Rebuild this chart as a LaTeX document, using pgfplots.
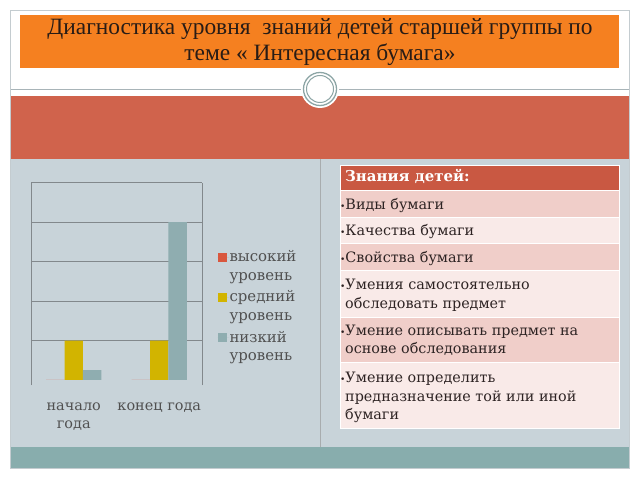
\documentclass[border=0pt]{standalone}
\usepackage{pgfplots}
\pgfplotsset{compat=1.18}
\usepackage{fontspec}
\setmainfont{DejaVu Serif}
\newfontfamily\titlefont{Liberation Serif}
\definecolor{orangeT}{RGB}{245,128,32}
\definecolor{redband}{RGB}{208,99,76}
\definecolor{slatebg}{RGB}{200,211,217}
\definecolor{tealband}{RGB}{136,173,173}
\definecolor{hdr}{RGB}{201,88,66}
\definecolor{rowdark}{RGB}{240,206,201}
\definecolor{rowlight}{RGB}{249,234,232}
\definecolor{barred}{RGB}{217,87,62}
\definecolor{baryel}{RGB}{210,180,0}
\definecolor{barteal}{RGB}{143,173,176}
\definecolor{txtgray}{RGB}{80,80,80}
\definecolor{titletext}{RGB}{40,28,22}
\definecolor{framegray}{RGB}{196,204,208}
\definecolor{linegray}{RGB}{168,180,184}
\definecolor{ringgray}{RGB}{140,165,165}
\definecolor{gridgray}{RGB}{130,136,140}
\definecolor{tabtext}{RGB}{45,35,35}
\begin{document}
\begin{tikzpicture}
\begin{scope}[x=1bp,y=-1bp]
\path[use as bounding box] (0,0) rectangle (640,480);
\fill[white] (0,0) rectangle (640,480);
\draw[framegray, line width=1bp] (10.5,10.5) rectangle (629.5,468.5);
\fill[orangeT] (20,15) rectangle (619,68);
\node[font=\titlefont\fontsize{23.5}{26}\selectfont, text=titletext] at (320,29.5) {Диагностика уровня \ знаний детей старшей группы по};
\node[font=\titlefont\fontsize{23.5}{26}\selectfont, text=titletext] at (320,54.5) {теме « Интересная бумага»};
\draw[linegray, line width=1.5bp] (11,89.5) -- (629,89.5);
\fill[redband] (11,96) rectangle (629,159);
\fill[slatebg] (11,159) rectangle (629,447);
\fill[tealband] (11,447) rectangle (629,468);
\draw[gridgray!70, line width=0.8bp] (320.5,159) -- (320.5,447);
\fill[white] (320,89) circle (19);
\draw[ringgray, line width=1.3bp] (320,89) circle (16.5);
\draw[ringgray, line width=1bp] (320,89) circle (13.5);
% table
\fill[hdr] (340,165) rectangle (619,190);
\fill[rowdark] (340,190) rectangle (619,217);
\fill[rowlight] (340,217) rectangle (619,243);
\fill[rowdark] (340,243) rectangle (619,270);
\fill[rowlight] (340,270) rectangle (619,317);
\fill[rowdark] (340,317) rectangle (619,362);
\fill[rowlight] (340,362) rectangle (619,428);
\foreach \yy in {190,217,243,270,317,362} \draw[white, line width=0.8bp] (340,\yy) -- (619,\yy);
\draw[white, line width=0.8bp] (340,165) rectangle (619,428);
\begin{scope}[every node/.style={anchor=base west, inner sep=0pt, font=\fontsize{14.4}{19}\selectfont, text=tabtext}]
\node[font=\bfseries\fontsize{15}{19}\selectfont, text=white] at (345,182) {Знания детей:};
\node at (340,210) {{\fontsize{9}{9}\selectfont\textbullet}Виды бумаги};
\node at (340,236) {{\fontsize{9}{9}\selectfont\textbullet}Качества бумаги};
\node at (340,262) {{\fontsize{9}{9}\selectfont\textbullet}Свойства бумаги};
\node at (340,289) {{\fontsize{9}{9}\selectfont\textbullet}Умения самостоятельно};
\node at (345,308) {обследовать предмет};
\node at (340,335) {{\fontsize{9}{9}\selectfont\textbullet}Умение описывать предмет на};
\node at (345,353) {основе обследования};
\node at (340,382) {{\fontsize{9}{9}\selectfont\textbullet}Умение определить};
\node at (345,401) {предназначение той или иной};
\node at (345,419) {бумаги};
\end{scope}
\end{scope}
\begin{axis}[
  at={(31bp,-385bp)}, anchor=south west,
  scale only axis, width=171bp, height=202.3bp,
  xmin=0, xmax=2, ymin=-0.127, ymax=5,
  ybar=0pt, bar width=0.215,
  axis line style={draw=none},
  ytick={1,2,3,4,5}, yticklabels={}, ymajorgrids,
  grid style={gridgray, line width=0.8bp},
  major tick length=0pt,
  xtick={0.5,1.5}, xticklabels={начало\\года, конец года},
  xticklabel style={align=center, text=txtgray, font=\fontsize{14.5}{18.5}\selectfont, yshift=-14bp},
  legend style={at={(1.072,0.677)}, anchor=north west, draw=none, fill=none,
    nodes={align=left, text=txtgray, font=\fontsize{15}{19}\selectfont, inner sep=0.5bp},
    row sep=7.5bp},
  legend cell align=left,
  legend image code/.code={\fill[#1] (0bp,5bp) rectangle (9bp,14bp); \path (0bp,9bp) -- (11.5bp,9bp);},
  clip=false,
]
\addplot[fill=barred, draw=none] coordinates {(0.5,0) (1.5,0)};
\addplot[fill=baryel, draw=none] coordinates {(0.5,1) (1.5,1)};
\addplot[fill=barteal, draw=none] coordinates {(0.5,0.25) (1.5,4)};
\legend{высокий\\уровень, средний\\уровень, низкий\\уровень}
\draw[gridgray, line width=0.8bp] (axis cs:0,-0.127) -- (axis cs:0,5);
\draw[gridgray, line width=0.8bp] (axis cs:2,-0.127) -- (axis cs:2,5);
\end{axis}
\end{tikzpicture}
\end{document}
